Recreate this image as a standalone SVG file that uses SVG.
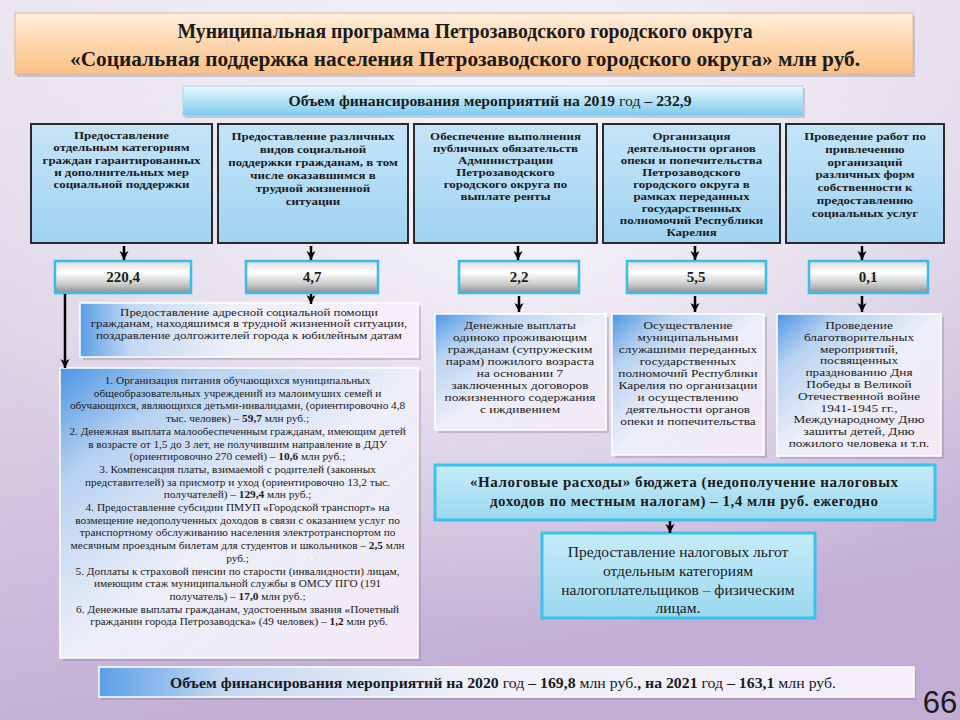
<svg xmlns="http://www.w3.org/2000/svg" width="960" height="720" viewBox="0 0 960 720">
<defs>
<linearGradient id="bg" x1="0" y1="0" x2="0.25" y2="1">
<stop offset="0" stop-color="#ebe7f1"/>
<stop offset="0.45" stop-color="#ddd4e8"/>
<stop offset="1" stop-color="#c2aed5"/>
</linearGradient>
<radialGradient id="bgHi" cx="0.55" cy="0.28" r="0.6">
<stop offset="0" stop-color="#ffffff" stop-opacity="0.75"/>
<stop offset="1" stop-color="#ffffff" stop-opacity="0"/>
</radialGradient>
<linearGradient id="orange" x1="0" y1="0" x2="0" y2="1">
<stop offset="0" stop-color="#feeedd"/>
<stop offset="0.5" stop-color="#fdd6ae"/>
<stop offset="1" stop-color="#fbbf86"/>
</linearGradient>
<linearGradient id="bar19" x1="0" y1="0" x2="0" y2="1">
<stop offset="0" stop-color="#eaf7fd"/>
<stop offset="0.5" stop-color="#b4e2f6"/>
<stop offset="1" stop-color="#7cc9ec"/>
</linearGradient>
<linearGradient id="topbox" x1="0" y1="0" x2="0" y2="1">
<stop offset="0" stop-color="#c4e4f8"/>
<stop offset="0.5" stop-color="#b3dcf5"/>
<stop offset="1" stop-color="#a0d2f1"/>
</linearGradient>
<linearGradient id="silver" x1="0" y1="0" x2="0" y2="1">
<stop offset="0" stop-color="#d9d9d9"/>
<stop offset="0.35" stop-color="#ffffff"/>
<stop offset="0.7" stop-color="#cfcfcf"/>
<stop offset="1" stop-color="#8f8f8f"/>
</linearGradient>
<linearGradient id="soft" x1="0" y1="0" x2="1" y2="1">
<stop offset="0" stop-color="#4d95e3"/>
<stop offset="0.2" stop-color="#b7d2f1"/>
<stop offset="0.5" stop-color="#eceef8"/>
<stop offset="1" stop-color="#f3e9f5"/>
</linearGradient>
<linearGradient id="softW" x1="0" y1="0" x2="1" y2="0">
<stop offset="0" stop-color="#5a9fe6"/>
<stop offset="0.15" stop-color="#c3d8f3"/>
<stop offset="0.45" stop-color="#eef0f8"/>
<stop offset="1" stop-color="#f6eef8"/>
</linearGradient>
<linearGradient id="cyanbox" x1="0" y1="0" x2="0" y2="1">
<stop offset="0" stop-color="#c6ebf8"/>
<stop offset="1" stop-color="#9ad9f0"/>
</linearGradient>
<marker id="ah" viewBox="0 0 10 10" refX="9" refY="5" markerWidth="10" markerHeight="10" markerUnits="userSpaceOnUse" orient="auto">
<path d="M0,0.5 L9,5 L0,9.5 L2.5,5 Z" fill="#000"/>
</marker>
<style>
text{font-family:"Liberation Serif","Times New Roman",serif;fill:#1b1b1b}
.c{text-anchor:middle}
.b{font-weight:bold}
.tb{font-size:10.6px;font-weight:bold;text-anchor:middle}
.tn{font-size:10.4px;text-anchor:middle}
.sm{font-size:11.3px;text-anchor:middle}
.top{fill:url(#topbox);stroke:#2a2a2a;stroke-width:2}
.val{fill:url(#silver);stroke:#38bde6;stroke-width:2.5}
.soft{fill:url(#soft);stroke:#ffffff;stroke-width:1.5}
.shadow{fill:#8a7c99;opacity:0.35}
.cyan{fill:url(#cyanbox);stroke:#38c3ea;stroke-width:3}
.conn line{stroke:#000;stroke-width:2.5;marker-end:url(#ah)}
</style>
</defs>

<rect x="0" y="0" width="960" height="720" fill="url(#bg)"/>
<rect x="0" y="0" width="960" height="720" fill="url(#bgHi)"/>

<g id="title">
<rect x="17" y="16" width="898" height="61" class="shadow"/>
<rect x="15" y="13" width="898" height="61" fill="url(#orange)" stroke="#e0b88e" stroke-width="1"/>
<text x="465" y="38" class="c b" font-size="20" textLength="575" lengthAdjust="spacingAndGlyphs">Муниципальная программа Петрозаводского городского округа</text>
<text x="465" y="66" class="c b" font-size="20" textLength="790" lengthAdjust="spacingAndGlyphs">«Социальная поддержка населения Петрозаводского городского округа»  млн руб.</text>
</g>

<g id="total2019">
<rect x="185" y="88" width="620" height="30" class="shadow"/>
<rect x="183" y="86" width="620" height="30" fill="url(#bar19)" stroke="#a9d6ea" stroke-width="1"/>
<text x="490" y="106" class="c b" font-size="15" textLength="403" lengthAdjust="spacingAndGlyphs">Объем финансирования  мероприятий на 2019 <tspan font-weight="normal">год</tspan> – 232,9</text>
</g>

<g id="task1">
<rect x="31" y="124" width="181" height="119" class="top"/>
<text class="tb" transform="translate(121.5 0) scale(1.22 1)"><tspan x="0" y="139">Предоставление</tspan><tspan x="0" y="151.3">отдельным категориям</tspan><tspan x="0" y="163.6">граждан гарантированных</tspan><tspan x="0" y="175.9">и дополнительных мер</tspan><tspan x="0" y="188.2">социальной поддержки</tspan></text>
</g>
<g id="task2">
<rect x="218" y="124" width="190" height="119" class="top"/>
<text class="tb" transform="translate(313 0) scale(1.22 1)"><tspan x="0" y="140">Предоставление различных</tspan><tspan x="0" y="153">видов социальной</tspan><tspan x="0" y="166">поддержки гражданам, в том</tspan><tspan x="0" y="179">числе оказавшимся в</tspan><tspan x="0" y="192">трудной жизненной</tspan><tspan x="0" y="205">ситуации</tspan></text>
</g>
<g id="task3">
<rect x="414" y="124" width="183" height="119" class="top"/>
<text class="tb" transform="translate(505.5 0) scale(1.22 1)"><tspan x="0" y="140">Обеспечение выполнения</tspan><tspan x="0" y="152">публичных обязательств</tspan><tspan x="0" y="164">Администрации</tspan><tspan x="0" y="176">Петрозаводского</tspan><tspan x="0" y="188">городского округа по</tspan><tspan x="0" y="200">выплате ренты</tspan></text>
</g>
<g id="task4">
<rect x="603" y="124" width="177" height="119" class="top"/>
<text class="tb" transform="translate(691.5 0) scale(1.22 1)"><tspan x="0" y="140">Организация</tspan><tspan x="0" y="152">деятельности органов</tspan><tspan x="0" y="164">опеки и попечительства</tspan><tspan x="0" y="176">Петрозаводского</tspan><tspan x="0" y="188">городского округа в</tspan><tspan x="0" y="200">рамках переданных</tspan><tspan x="0" y="212">государственных</tspan><tspan x="0" y="224">полномочий Республики</tspan><tspan x="0" y="236">Карелия</tspan></text>
</g>
<g id="task5">
<rect x="786" y="124" width="158" height="119" class="top"/>
<text class="tb" transform="translate(865 0) scale(1.22 1)"><tspan x="0" y="140">Проведение работ по</tspan><tspan x="0" y="152.8">привлечению</tspan><tspan x="0" y="165.6">организаций</tspan><tspan x="0" y="178.4">различных форм</tspan><tspan x="0" y="191.2">собственности к</tspan><tspan x="0" y="204">предоставлению</tspan><tspan x="0" y="216.8">социальных услуг</tspan></text>
</g>

<g id="val1"><rect x="55" y="261" width="136" height="32" class="val"/><text x="123" y="282" class="c b" font-size="15">220,4</text></g>
<g id="val2"><rect x="246" y="261" width="132" height="32" class="val"/><text x="312" y="282" class="c b" font-size="15">4,7</text></g>
<g id="val3"><rect x="459" y="261" width="120" height="32" class="val"/><text x="519" y="282" class="c b" font-size="15">2,2</text></g>
<g id="val4"><rect x="627" y="261" width="139" height="32" class="val"/><text x="696" y="282" class="c b" font-size="15">5,5</text></g>
<g id="val5"><rect x="809" y="261" width="119" height="32" class="val"/><text x="868" y="282" class="c b" font-size="15">0,1</text></g>

<g id="targeted-aid">
<rect x="83" y="306" width="338" height="54" class="shadow"/>
<rect x="80" y="303" width="338" height="54" fill="url(#softW)" stroke="#ffffff" stroke-width="1.5"/>
<text font-size="10.2" class="c" transform="translate(249 0) scale(1.26 1)"><tspan x="0" y="316">Предоставление адресной социальной помощи</tspan><tspan x="0" y="327.5">гражданам, находяшимся в трудной жизненной ситуации,</tspan><tspan x="0" y="339">поздравление долгожителей города к юбилейным датам</tspan></text>
</g>

<g id="measures">
<rect x="63" y="371" width="358" height="290" class="shadow"/>
<rect x="60" y="368" width="358" height="290" class="soft"/>
<text class="sm">
<tspan x="239" y="384">1. Организация питания обучающихся  муниципальных</tspan>
<tspan x="239" y="396.7">общеобразовательных учреждений из малоимуших семей и</tspan>
<tspan x="239" y="409.4">обучающихся, являющихся  детьми-инвалидами, (ориентировочно 4,8</tspan>
<tspan x="239" y="422.1">тыс. человек) – <tspan font-weight="bold">59,7</tspan> млн руб.;</tspan>
<tspan x="239" y="434.8">2. Денежная выплата малообеспеченным гражданам, имеющим детей</tspan>
<tspan x="239" y="447.5">в возрасте от 1,5 до 3 лет, не получившим направление в ДДУ</tspan>
<tspan x="239" y="460.2">(ориентировочно 270 семей) – <tspan font-weight="bold">10,6</tspan> млн руб.;</tspan>
<tspan x="239" y="472.9">3. Компенсация платы, взимаемой с родителей (законных</tspan>
<tspan x="239" y="485.6">представителей) за присмотр и уход  (ориентировочно 13,2 тыс.</tspan>
<tspan x="239" y="498.3">получателей) – <tspan font-weight="bold">129,4</tspan> млн руб.;</tspan>
<tspan x="239" y="511">4. Предоставление субсидии ПМУП «Городской транспорт» на</tspan>
<tspan x="239" y="523.7">возмещение недополученных доходов в связи с оказанием услуг по</tspan>
<tspan x="239" y="536.4">транспортному обслуживанию населения электротранспортом по</tspan>
<tspan x="239" y="549.1">месячным проездным билетам для студентов и  школьников – <tspan font-weight="bold">2,5</tspan> млн</tspan>
<tspan x="239" y="561.8">руб.;</tspan>
<tspan x="239" y="574.5">5. Доплаты к страховой пенсии по старости (инвалидности) лицам,</tspan>
<tspan x="239" y="587.2">имеющим стаж муниципальной службы в ОМСУ ПГО (191</tspan>
<tspan x="239" y="599.9">получатель) – <tspan font-weight="bold">17,0</tspan> млн руб.;</tspan>
<tspan x="239" y="612.6">6. Денежные выплаты гражданам, удостоенным звания «Почетный</tspan>
<tspan x="239" y="625.3">гражданин города Петрозаводска» (49 человек) – <tspan font-weight="bold">1,2</tspan> млн руб.</tspan>
</text>
</g>

<g id="rent">
<rect x="438" y="317" width="171" height="116" class="shadow"/>
<rect x="435" y="314" width="171" height="116" class="soft"/>
<text class="tn" transform="translate(520 0) scale(1.28 1)"><tspan x="0" y="329">Денежные выплаты</tspan><tspan x="0" y="341">одиноко проживающим</tspan><tspan x="0" y="353">гражданам (супружеским</tspan><tspan x="0" y="365">парам) пожилого возраста</tspan><tspan x="0" y="377">на основании 7</tspan><tspan x="0" y="389">заключенных договоров</tspan><tspan x="0" y="401">пожизненного содержания</tspan><tspan x="0" y="413">с иждивением</tspan></text>
</g>
<g id="guardianship">
<rect x="615" y="317" width="152" height="141" class="shadow"/>
<rect x="612" y="314" width="152" height="141" class="soft"/>
<text class="tn" transform="translate(688 0) scale(1.28 1)"><tspan x="0" y="329">Осуществление</tspan><tspan x="0" y="341">муниципальными</tspan><tspan x="0" y="353">служашими переданных</tspan><tspan x="0" y="365">государственных</tspan><tspan x="0" y="377">полномочий Республики</tspan><tspan x="0" y="389">Карелия по организации</tspan><tspan x="0" y="401">и осуществлению</tspan><tspan x="0" y="413">деятельности органов</tspan><tspan x="0" y="425">опеки и попечительства</tspan></text>
</g>
<g id="charity">
<rect x="780" y="317" width="164" height="142" class="shadow"/>
<rect x="777" y="314" width="164" height="142" class="soft"/>
<text class="tn" transform="translate(859 0) scale(1.28 1)"><tspan x="0" y="329">Проведение</tspan><tspan x="0" y="340.8">благотворительных</tspan><tspan x="0" y="352.6">мероприятий,</tspan><tspan x="0" y="364.4">посвященных</tspan><tspan x="0" y="376.2">празднованию Дня</tspan><tspan x="0" y="388">Победы в Великой</tspan><tspan x="0" y="399.8">Отечественной войне</tspan><tspan x="0" y="411.6">1941-1945 гг.,</tspan><tspan x="0" y="423.4">Международному Дню</tspan><tspan x="0" y="435.2">зашиты детей, Дню</tspan><tspan x="0" y="447">пожилого человека и т.п.</tspan></text>
</g>

<g id="tax-expenses">
<rect x="435" y="465" width="500" height="55" class="cyan"/>
<text class="c b" font-size="15"><tspan x="684" y="487" textLength="428" lengthAdjust="spacing">«Налоговые расходы» бюджета (недополучение налоговых</tspan><tspan x="684" y="506" textLength="388" lengthAdjust="spacing">доходов по местным налогам) – 1,4 млн руб. ежегодно</tspan></text>
</g>
<g id="tax-benefits">
<rect x="542" y="533" width="273" height="85" class="cyan"/>
<text class="c" font-size="15.5"><tspan x="678" y="557">Предоставление налоговых льгот</tspan><tspan x="678" y="576">отдельным категориям</tspan><tspan x="678" y="595">налогоплательщиков – физическим</tspan><tspan x="678" y="613">лицам.</tspan></text>
</g>

<g id="total2020-2021">
<rect x="101" y="670" width="815" height="30" class="shadow"/>
<rect x="99" y="667" width="815" height="30" fill="url(#softW)" stroke="#ffffff" stroke-width="1.5"/>
<text x="503" y="688" class="c b" font-size="15" textLength="666" lengthAdjust="spacingAndGlyphs">Объем финансирования  мероприятий на 2020 <tspan font-weight="normal">год</tspan> – 169,8 <tspan font-weight="normal">млн руб.</tspan>, на 2021 <tspan font-weight="normal">год</tspan> – 163,1 <tspan font-weight="normal">млн руб.</tspan></text>
</g>

<g id="page-number">
<text x="940" y="713" class="c" font-size="31" style="font-family:'Liberation Sans',Arial,sans-serif">66</text>
</g>

<g id="connectors" class="conn">
<line x1="124" y1="246" x2="124" y2="260"/>
<line x1="311" y1="246" x2="311" y2="260"/>
<line x1="518" y1="246" x2="518" y2="260"/>
<line x1="695" y1="246" x2="695" y2="260"/>
<line x1="862" y1="246" x2="862" y2="260"/>
<line x1="65" y1="294" x2="65" y2="368"/>
<line x1="311" y1="294" x2="311" y2="304"/>
<line x1="519" y1="296" x2="519" y2="312"/>
<line x1="695" y1="296" x2="695" y2="312"/>
<line x1="862" y1="296" x2="862" y2="312"/>
<line x1="670" y1="521" x2="670" y2="533"/>
</g>
</svg>
